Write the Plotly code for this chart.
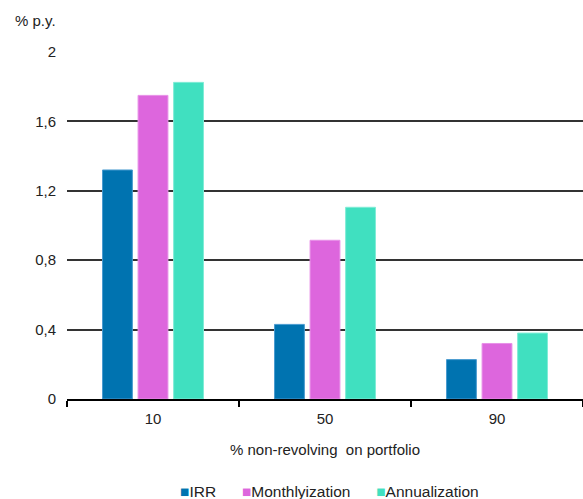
import plotly.graph_objects as go

categories = ["10", "50", "90"]
irr = [1.32, 0.43, 0.227]
monthly = [1.75, 0.915, 0.32]
annual = [1.825, 1.105, 0.38]

series = [
    ("IRR", irr, "#0073B0", "#4a9bd0"),
    ("Monthlyization", monthly, "#DD66DD", "#e890e8"),
    ("Annualization", annual, "#40E0C0", "#80ecd6"),
]

fig = go.Figure()
for name, vals, col, edge in series:
    fig.add_trace(go.Bar(
        x=categories, y=vals, name=name,
        marker=dict(color=col, line=dict(color=edge, width=1)),
    ))

legend_html = "&nbsp;&nbsp;&nbsp;&nbsp;&nbsp;&nbsp;".join(
    f"<span style='color:{col}'>■</span>{name}" for name, _, col, _ in series
)

fig.update_layout(
    width=583, height=499,
    margin=dict(l=67, r=0, t=52, b=100, autoexpand=False),
    paper_bgcolor="white", plot_bgcolor="white",
    font=dict(family="Liberation Sans, Arial, sans-serif", size=15, color="#222222"),
    barmode="group", bargap=0.38, bargroupgap=0.16,
    showlegend=False,
    xaxis=dict(
        type="category", showline=True, linecolor="#000000", linewidth=2,
        ticks="outside", tickson="boundaries", ticklen=6, tickwidth=1.5, tickcolor="#000000",
        showgrid=False, automargin=False, ticklabelstandoff=5,
        title=dict(text="% non-revolving  on portfolio", standoff=18, font=dict(size=15)),
    ),
    yaxis=dict(
        range=[0, 2], tickvals=[0, 0.4, 0.8, 1.2, 1.6, 2],
        ticktext=["0", "0,4", "0,8", "1,2", "1,6", "2"],
        showgrid=True, gridcolor="#333333", gridwidth=1.5, automargin=False,
        zeroline=False, showline=False, ticks="", ticklabelstandoff=10,
    ),
    annotations=[
        dict(text="% p.y.", xref="paper", yref="paper", x=-0.105, y=1.092,
             xanchor="left", yanchor="middle", showarrow=False, font=dict(size=15)),
        dict(text=legend_html, xref="paper", yref="paper", x=0.508, y=-0.268,
             xanchor="center", yanchor="middle", showarrow=False, font=dict(size=15.5)),
    ],
)

fig.write_html("out.html")
